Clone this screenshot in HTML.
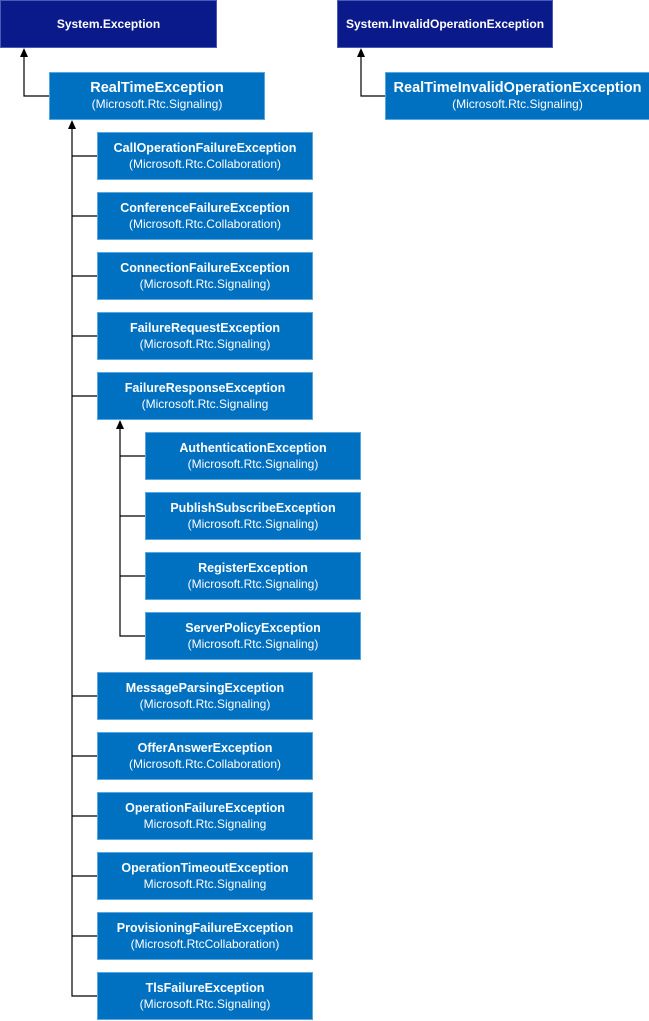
<!DOCTYPE html>
<html><head><meta charset="utf-8"><style>
body{margin:0;width:649px;height:1021px;background:#fff;position:relative;overflow:hidden;font-family:"Liberation Sans",sans-serif}
.b{position:absolute;box-sizing:border-box;background:#0070c0;border:1px solid #5aa6e0;color:#fff;text-align:center;display:flex;flex-direction:column;justify-content:center;line-height:16px}
.b b{font-size:12.5px}
.b span{font-size:12px}
.r{background:#0a1a8a;border-color:#4a5ab8}
.r b{font-size:12px}
.l b{font-size:14.5px}
svg{position:absolute;left:0;top:0}
</style></head><body>
<svg width="649" height="1021">
<g stroke="#000" stroke-width="1.2" fill="none">
<path d="M24 56V96H49"/>
<path d="M361 56V96H385"/>
<path d="M72 128V996H97"/>
<path d="M72 156H97M72 216H97M72 276H97M72 336H97M72 396H97M72 696H97M72 756H97M72 816H97M72 876H97M72 936H97"/>
<path d="M120 428V636H145M120 456H145M120 516H145M120 576H145"/>
</g>
<g fill="#000">
<path d="M24 48l-4 9h8z"/><path d="M361 48l-4 9h8z"/><path d="M72 120l-4 9h8z"/><path d="M120 420l-4 9h8z"/>
</g>
</svg>
<div class="b r" style="left:0;top:0;width:217px;height:48px"><b>System.Exception</b></div>
<div class="b r" style="left:337;left:337px;top:0;width:216px;height:48px"><b>System.InvalidOperationException</b></div>
<div class="b l" style="left:49px;top:72px;width:216px;height:48px"><b>RealTimeException</b><span>(Microsoft.Rtc.Signaling)</span></div>
<div class="b l" style="left:385px;top:72px;width:265px;height:48px"><b>RealTimeInvalidOperationException</b><span>(Microsoft.Rtc.Signaling)</span></div>
<div class="b" style="left:97px;top:132px;width:216px;height:48px"><b>CallOperationFailureException</b><span>(Microsoft.Rtc.Collaboration)</span></div>
<div class="b" style="left:97px;top:192px;width:216px;height:48px"><b>ConferenceFailureException</b><span>(Microsoft.Rtc.Collaboration)</span></div>
<div class="b" style="left:97px;top:252px;width:216px;height:48px"><b>ConnectionFailureException</b><span>(Microsoft.Rtc.Signaling)</span></div>
<div class="b" style="left:97px;top:312px;width:216px;height:48px"><b>FailureRequestException</b><span>(Microsoft.Rtc.Signaling)</span></div>
<div class="b" style="left:97px;top:372px;width:216px;height:48px"><b>FailureResponseException</b><span>(Microsoft.Rtc.Signaling</span></div>
<div class="b" style="left:145px;top:432px;width:216px;height:48px"><b>AuthenticationException</b><span>(Microsoft.Rtc.Signaling)</span></div>
<div class="b" style="left:145px;top:492px;width:216px;height:48px"><b>PublishSubscribeException</b><span>(Microsoft.Rtc.Signaling)</span></div>
<div class="b" style="left:145px;top:552px;width:216px;height:48px"><b>RegisterException</b><span>(Microsoft.Rtc.Signaling)</span></div>
<div class="b" style="left:145px;top:612px;width:216px;height:48px"><b>ServerPolicyException</b><span>(Microsoft.Rtc.Signaling)</span></div>
<div class="b" style="left:97px;top:672px;width:216px;height:48px"><b>MessageParsingException</b><span>(Microsoft.Rtc.Signaling)</span></div>
<div class="b" style="left:97px;top:732px;width:216px;height:48px"><b>OfferAnswerException</b><span>(Microsoft.Rtc.Collaboration)</span></div>
<div class="b" style="left:97px;top:792px;width:216px;height:48px"><b>OperationFailureException</b><span>Microsoft.Rtc.Signaling</span></div>
<div class="b" style="left:97px;top:852px;width:216px;height:48px"><b>OperationTimeoutException</b><span>Microsoft.Rtc.Signaling</span></div>
<div class="b" style="left:97px;top:912px;width:216px;height:48px"><b>ProvisioningFailureException</b><span>(Microsoft.RtcCollaboration)</span></div>
<div class="b" style="left:97px;top:972px;width:216px;height:48px"><b>TlsFailureException</b><span>(Microsoft.Rtc.Signaling)</span></div>
</body></html>
